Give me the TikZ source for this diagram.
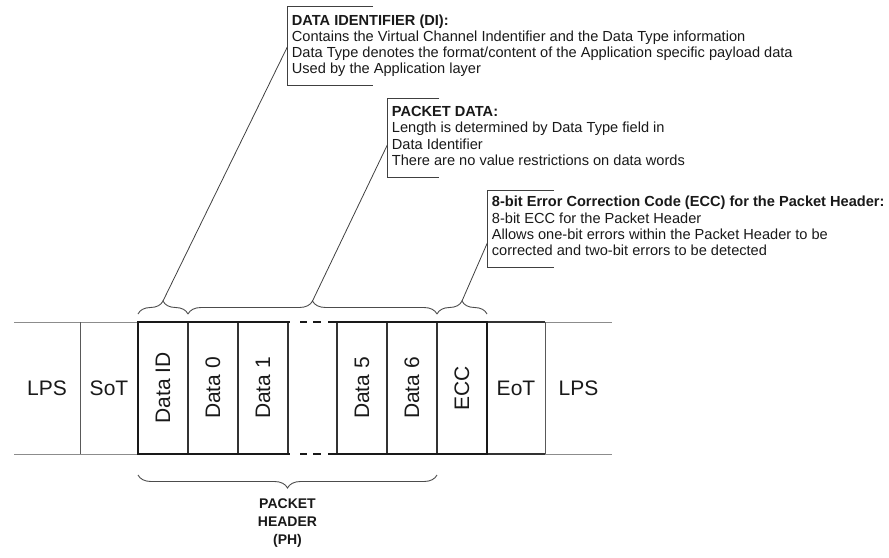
\documentclass[tikz,border=0pt]{standalone}
\usepackage{fontspec}
\setmainfont{Liberation Sans}
\usetikzlibrary{decorations.pathreplacing}

\begin{document}
\begin{tikzpicture}[x=1pt,y=-1pt,
  thinrule/.style={draw=black!45, line width=0.9pt},
  siderule/.style={draw=black!65, line width=1pt},
  cellrule/.style={draw=black!80, line width=1.1pt},
  framerule/.style={draw=black!90, line width=1.8pt},
  gaprule/.style={draw=black!90, line width=1.8pt,
    dash pattern=on 2pt off 10pt on 7pt off 6pt on 8pt off 7pt on 9pt off 5pt},
  cell/.style={inner sep=0pt, text=black!90, font=\fontsize{21}{25}\selectfont},
  vcell/.style={cell, rotate=90},
  note/.style={anchor=north west, align=left, inner sep=0pt, text=black!90,
    font=\fontsize{14.6}{16.3}\selectfont},
  bracket/.style={draw=black!75, line width=0.9pt},
  leader/.style={draw=black!75, line width=0.8pt},
  bracebox/.style={draw=black!70, line width=0.9pt, decorate,
    decoration={brace, amplitude=13pt}},
]
\useasboundingbox (0,0) rectangle (889,557);

% ---- lane rules outside the packet
\draw[thinrule] (14,322) -- (138,322);
\draw[thinrule] (14,454) -- (138,454);
\draw[cellrule] (487,322) -- (545,322);
\draw[cellrule] (487,454) -- (545,454);
\draw[thinrule] (545,322) -- (612,322);
\draw[thinrule] (545,454) -- (612,454);
\draw[siderule] (80,322) -- (80,454);
\draw[siderule] (545,322) -- (545,454);

% ---- separators between data words
\foreach \x in {188,238,288,337,387,437}
  \draw[cellrule] (\x,322) -- (\x,454);

% ---- packet header frame
\draw[framerule] (138,322) -- (288,322);
\draw[framerule] (138,454) -- (288,454);
\draw[framerule] (337,322) -- (487,322);
\draw[framerule] (337,454) -- (487,454);
\draw[framerule] (138,321.1) -- (138,454.9);
\draw[framerule] (487,321.1) -- (487,454.9);
\draw[gaprule] (288,322) -- (337,322);
\draw[gaprule] (288,454) -- (337,454);

% ---- field labels
\node[cell]  (lpsL)   at (47,388)    {LPS};
\node[cell]  (sot)    at (109,388)   {SoT};
\node[vcell] (dataid) at (163,388)   {Data ID};
\node[vcell] (d0)     at (213,388)   {Data 0};
\node[vcell] (d1)     at (263,388)   {Data 1};
\node[vcell] (d5)     at (362,388)   {Data 5};
\node[vcell] (d6)     at (412,388)   {Data 6};
\node[vcell] (ecc)    at (462,388)   {ECC};
\node[cell]  (eot)    at (516,388)   {EoT};
\node[cell]  (lpsR)   at (578.5,388) {LPS};

% ---- braces over the fields
\draw[bracebox] (138,314) -- (188,314);
\draw[bracebox] (188,314) -- (437,314);
\draw[bracebox] (437,314) -- (487,314);
\coordinate (tipDI)  at (163,301);
\coordinate (tipPD)  at (312.5,301);
\coordinate (tipECC) at (462,301);

% ---- brace under the packet header
\draw[bracebox] (437,475) -- (138,475);
\node[inner sep=0pt, anchor=north, align=center, text=black!90,
  font=\bfseries\fontsize{14}{18.3}\selectfont] (ph) at (287.5,498.3)
  {PACKET\\HEADER\\(PH)};

% ---- annotations
\node[note] (noteDI) at (291.7,14.3)
  {\textbf{DATA IDENTIFIER (DI):}\\
   Contains the Virtual Channel Indentifier and the Data Type information\\
   Data Type denotes the format/content of the Application specific payload data\\
   Used by the Application layer};
\draw[bracket] (373,6.7) -- (287.3,6.7) -- (287.3,85) -- (373,85);
\coordinate (legDI) at (287.3,47);

\node[note] (notePD) at (391.7,106.3)
  {\textbf{PACKET DATA:}\\
   Length is determined by Data Type field in\\
   Data Identifier\\
   There are no value restrictions on data words};
\draw[bracket] (439.3,98.3) -- (387.3,98.3) -- (387.3,177.3) -- (439.3,177.3);
\coordinate (legPD) at (387.3,145);

\node[note] (noteECC) at (491.7,196)
  {\textbf{8-bit Error Correction Code (ECC) for the Packet Header:}\\
   8-bit ECC for the Packet Header\\
   Allows one-bit errors within the Packet Header to be\\
   corrected and two-bit errors to be detected};
\draw[bracket] (554,190) -- (487.3,190) -- (487.3,267.3) -- (554,267.3);
\coordinate (legECC) at (487.3,243);

% ---- leader lines from braces to annotations
\draw[leader] (tipDI)  -- (legDI);
\draw[leader] (tipPD)  -- (legPD);
\draw[leader] (tipECC) -- (legECC);
\end{tikzpicture}
\end{document}
